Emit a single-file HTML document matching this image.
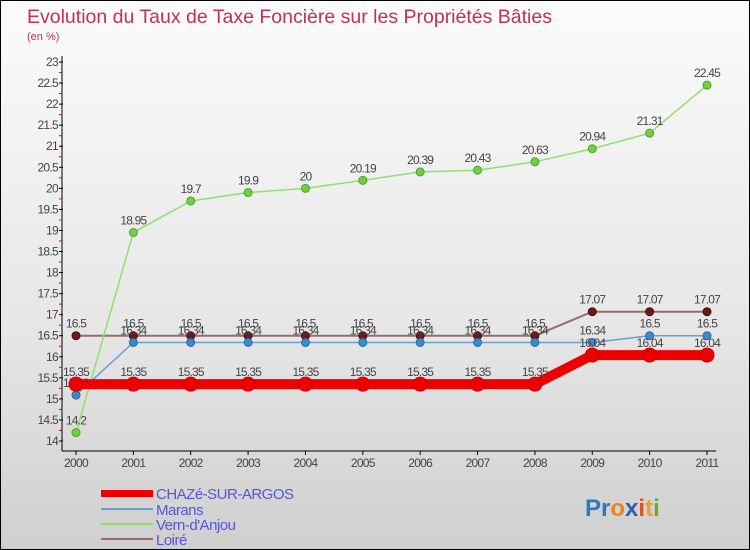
<!DOCTYPE html>
<html><head><meta charset="utf-8"><style>
body{margin:0}
#c{width:750px;height:550px;position:relative;box-sizing:border-box;border:1px solid #000;background:linear-gradient(#fbfbfb,#e6e6e6 60%,#cfcfcf);font-family:"Liberation Sans",sans-serif;overflow:hidden}
text{font-family:"Liberation Sans",sans-serif}
</style></head><body>
<div id="c">
<svg id="s" width="750" height="550">
<text x="26" y="22" font-size="19.5" fill="#c0305a">Evolution du Taux de Taxe Foncière sur les Propriétés Bâties</text>
<text x="26" y="39" font-size="11" fill="#c0305a">(en %)</text>
<g id="axes"></g><g id="series"></g>
<g>
<rect x="100" y="489" width="52" height="7" fill="#e00"/>
<text x="155" y="498" font-size="15" fill="#5555dd" letter-spacing="-0.5">CHAZé-SUR-ARGOS</text>
<line x1="100" y1="508" x2="152" y2="508" stroke="#6aa0d0" stroke-width="2"/>
<text x="155" y="514" font-size="15" fill="#5555dd" letter-spacing="-0.5">Marans</text>
<line x1="100" y1="523" x2="152" y2="523" stroke="#90e070" stroke-width="2"/>
<text x="155" y="529" font-size="15" fill="#5555dd" letter-spacing="-0.5">Vern-d'Anjou</text>
<line x1="100" y1="538" x2="152" y2="538" stroke="#9a6a6a" stroke-width="2"/>
<text x="155" y="544" font-size="15" fill="#5555dd" letter-spacing="-0.5">Loiré</text>
</g>
<text x="584" y="515" font-size="24" font-weight="bold"><tspan fill="#2a7ac0">Pr</tspan><tspan fill="#f08020">o</tspan><tspan fill="#2a60b0">x</tspan><tspan fill="#e05020">i</tspan><tspan fill="#f0a020">t</tspan><tspan fill="#60b030">i</tspan></text>
</svg>
</div>
<script>
const years=[2000,2001,2002,2003,2004,2005,2006,2007,2008,2009,2010,2011];
const yTicks=[14,14.5,15,15.5,16,16.5,17,17.5,18,18.5,19,19.5,20,20.5,21,21.5,22,22.5,23];
const chaze=[15.35,15.35,15.35,15.35,15.35,15.35,15.35,15.35,15.35,16.04,16.04,16.04];
const marans=[15.09,16.34,16.34,16.34,16.34,16.34,16.34,16.34,16.34,16.34,16.5,16.5];
const vern=[14.2,18.95,19.7,19.9,20,20.19,20.39,20.43,20.63,20.94,21.31,22.45];
const loire=[16.5,16.5,16.5,16.5,16.5,16.5,16.5,16.5,16.5,17.07,17.07,17.07];
const NS="http://www.w3.org/2000/svg";
const x=i=>75+i*(706-75)/11;
const y=v=>440-(v-14)*(440-61)/9;
function mk(t,a,p){const e=document.createElementNS(NS,t);for(const k in a)e.setAttribute(k,a[k]);p.appendChild(e);return e;}
const ax=document.getElementById('axes');
let e=mk('line',{x1:61,y1:55,x2:61,y2:450,stroke:'#000'},ax);


e=mk('line',{x1:61,y1:450,x2:715,y2:450,stroke:'#000'},ax);


yTicks.forEach((v,i)=>{
 mk('line',{x1:58,y1:y(v),x2:62,y2:y(v),stroke:'#000'},ax);
 if(i<yTicks.length-1)mk('line',{x1:58,y1:y(v+0.25),x2:61,y2:y(v+0.25),stroke:'#e00'},ax);
 const t=mk('text',{x:57,y:y(v)+4,'font-size':12,'text-anchor':'end',fill:'#444','letter-spacing':'-0.7'},ax);t.textContent=v;
 
 
});
years.forEach((yr,i)=>{
 mk('line',{x1:x(i),y1:450,x2:x(i),y2:454,stroke:'#000'},ax);
 const t=mk('text',{x:x(i),y:466,'font-size':12,'text-anchor':'middle',fill:'#444','letter-spacing':'-0.7'},ax);t.textContent=yr;
 
 
});
const sg=document.getElementById('series');
function series(name,vals,color,w,r,dot,stroke){
 const g=mk('g',{},sg);
 
 
 const l=mk('polyline',{points:vals.map((v,i)=>x(i)+','+y(v)).join(' '),fill:'none',stroke:color,'stroke-width':w},g);
 
 
 vals.forEach((v,i)=>{
  const c=mk('circle',{cx:x(i),cy:y(v),r:r,fill:dot,stroke:stroke,'stroke-width':1},g);
  
  
  const t=mk('text',{x:x(i),y:y(v)-8,'font-size':12,'text-anchor':'middle',fill:'#444','letter-spacing':'-0.8'},g);t.textContent=v;
  
  
 });
}
series('loire',loire,'#9a6a6a',2,4,'#6a1a1a','#4a0a0a');
series('marans',marans,'#6aa0d0',1.5,4,'#3a8ad0','#2a6aa0');
series('vern',vern,'#90e070',1.5,4,'#70d040','#50a030');
series('chaze',chaze,'#ee0000',10,7,'#ee0000','#cc0000');
</script>
</body></html>
